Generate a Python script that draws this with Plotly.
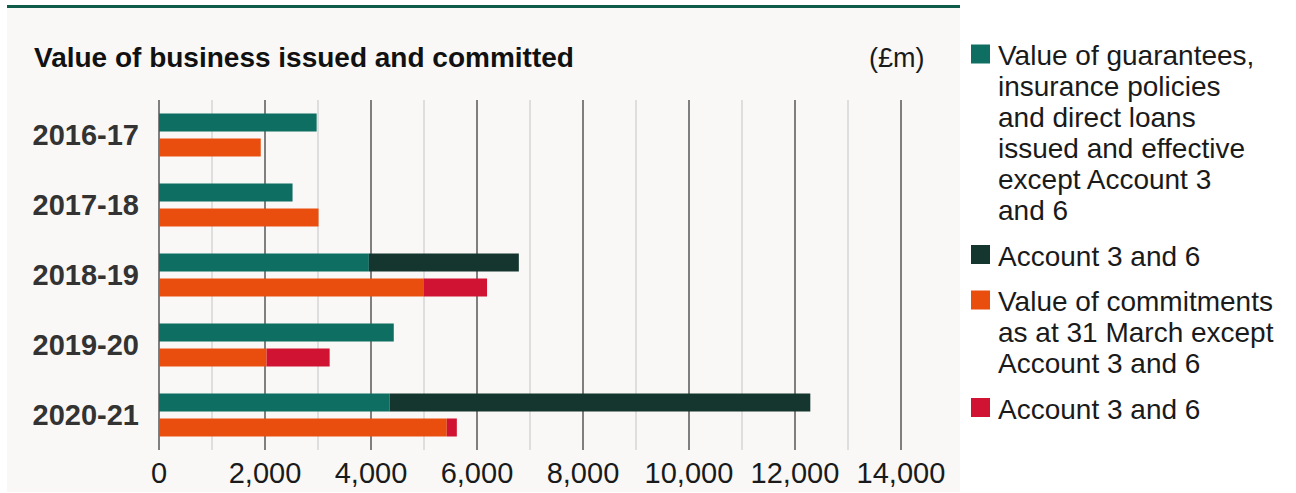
import plotly.graph_objects as go

# ---------------- data ----------------
years = ["2016-17", "2017-18", "2018-19", "2019-20", "2020-21"]
issued_except = [2975, 2520, 3960, 4430, 4350]
issued_acc36 = [None, None, 2830, None, 7940]
committed_except = [1920, 3010, 5000, 2030, 5430]
committed_acc36 = [None, None, 1190, 1190, 190]

series_names = [
    "Value of guarantees, insurance policies and direct loans issued and effective except Account 3 and 6",
    "Account 3 and 6",
    "Value of commitments as at 31 March except Account 3 and 6",
    "Account 3 and 6",
]
legend_lines = [
    ["Value of guarantees,", "insurance policies", "and direct loans",
     "issued and effective", "except Account 3", "and 6"],
    ["Account 3 and 6"],
    ["Value of commitments", "as at 31 March except", "Account 3 and 6"],
    ["Account 3 and 6"],
]
x_tickvals = [0, 2000, 4000, 6000, 8000, 10000, 12000, 14000]
x_ticktext = ["0", "2,000", "4,000", "6,000", "8,000", "10,000", "12,000", "14,000"]
title_text = "Value of business issued and committed"
unit_text = "(£m)"

# ---------------- styles ----------------
colors = ["#0d6e61", "#14362f", "#e94e0f", "#d01332"]
W, H = 1296, 493
L, T = 159, 100
PW, PH = 743, 350
R, B = W - L - PW, H - T - PH
FONT = "Liberation Sans, Arial, Helvetica, sans-serif"
XMAX = 14020


def px(x):
    return (x - L) / PW


def py(y):
    return 1 - (y - T) / PH


fig = go.Figure()
fig.add_trace(go.Bar(y=years, x=issued_except, orientation="h", offsetgroup="a",
                     marker=dict(color=colors[0], line=dict(width=0)),
                     name=series_names[0], showlegend=False))
fig.add_trace(go.Bar(y=years, x=issued_acc36, base=issued_except, orientation="h",
                     offsetgroup="a", marker=dict(color=colors[1], line=dict(width=0)),
                     name=series_names[1], showlegend=False))
fig.add_trace(go.Bar(y=years, x=committed_except, orientation="h", offsetgroup="b",
                     marker=dict(color=colors[2], line=dict(width=0)),
                     name=series_names[2], showlegend=False))
fig.add_trace(go.Bar(y=years, x=committed_acc36, base=committed_except, orientation="h",
                     offsetgroup="b", marker=dict(color=colors[3], line=dict(width=0)),
                     name=series_names[3], showlegend=False))

shapes = [
    # panel background
    dict(type="rect", xref="paper", yref="paper", x0=px(7), x1=px(960), y0=py(492), y1=py(6),
         fillcolor="#f9f8f6", line=dict(width=0), layer="below"),
    # top rule
    dict(type="rect", xref="paper", yref="paper", x0=px(7), x1=px(960), y0=py(8), y1=py(5),
         fillcolor="#0f5c4a", line=dict(width=0), layer="below"),
]

annotations = [
    dict(text=title_text, xref="paper", yref="paper", x=px(32), y=py(58),
         xanchor="left", yanchor="middle", showarrow=False,
         font=dict(family=FONT, size=28, color="#111111", weight="bold")),
    dict(text=unit_text, xref="paper", yref="paper", x=px(927), y=py(58),
         xanchor="right", yanchor="middle", showarrow=False,
         font=dict(family=FONT, size=27, color="#1a1a1a")),
]

# manual legend
baseline = 65.5
for i, lines in enumerate(legend_lines):
    shapes.append(dict(type="rect", xref="paper", yref="paper",
                       x0=px(971), x1=px(990), y0=py(baseline - 2), y1=py(baseline - 21),
                       fillcolor=colors[i], line=dict(width=0)))
    for line in lines:
        annotations.append(dict(text=line, xref="paper", yref="paper", x=px(996),
                                y=py(baseline - 10), xanchor="left", yanchor="middle",
                                showarrow=False,
                                font=dict(family=FONT, size=28, color="#1a1a1a")))
        baseline += 31
    baseline += 14.5

fig.update_layout(
    width=W, height=H,
    margin=dict(l=L, r=R, t=T, b=B, pad=0, autoexpand=False),
    paper_bgcolor="white",
    plot_bgcolor="rgba(0,0,0,0)",
    barmode="group",
    bargap=0.2857,
    bargroupgap=0.28,
    shapes=shapes,
    annotations=annotations,
    showlegend=False,
)
fig.update_xaxes(
    range=[0, XMAX], tickvals=x_tickvals, ticktext=x_ticktext,
    showgrid=True, gridcolor="#7f7f7f", gridwidth=1.5,
    zeroline=True, zerolinecolor="#7f7f7f", zerolinewidth=1.5,
    minor=dict(dtick=1000, tick0=0, showgrid=True, gridcolor="#dedede", gridwidth=1.5),
    showline=False, ticks="", ticklabelstandoff=3, automargin=False,
    tickfont=dict(family=FONT, size=29, color="#1a1a1a"),
    fixedrange=True,
)
fig.update_yaxes(
    autorange="reversed", showgrid=False, zeroline=False, showline=False, ticks="",
    ticklabelstandoff=19, automargin=False,
    tickfont=dict(family=FONT, size=29, color="#333333", weight="bold"),
    fixedrange=True,
)

fig.write_html("out.html")
